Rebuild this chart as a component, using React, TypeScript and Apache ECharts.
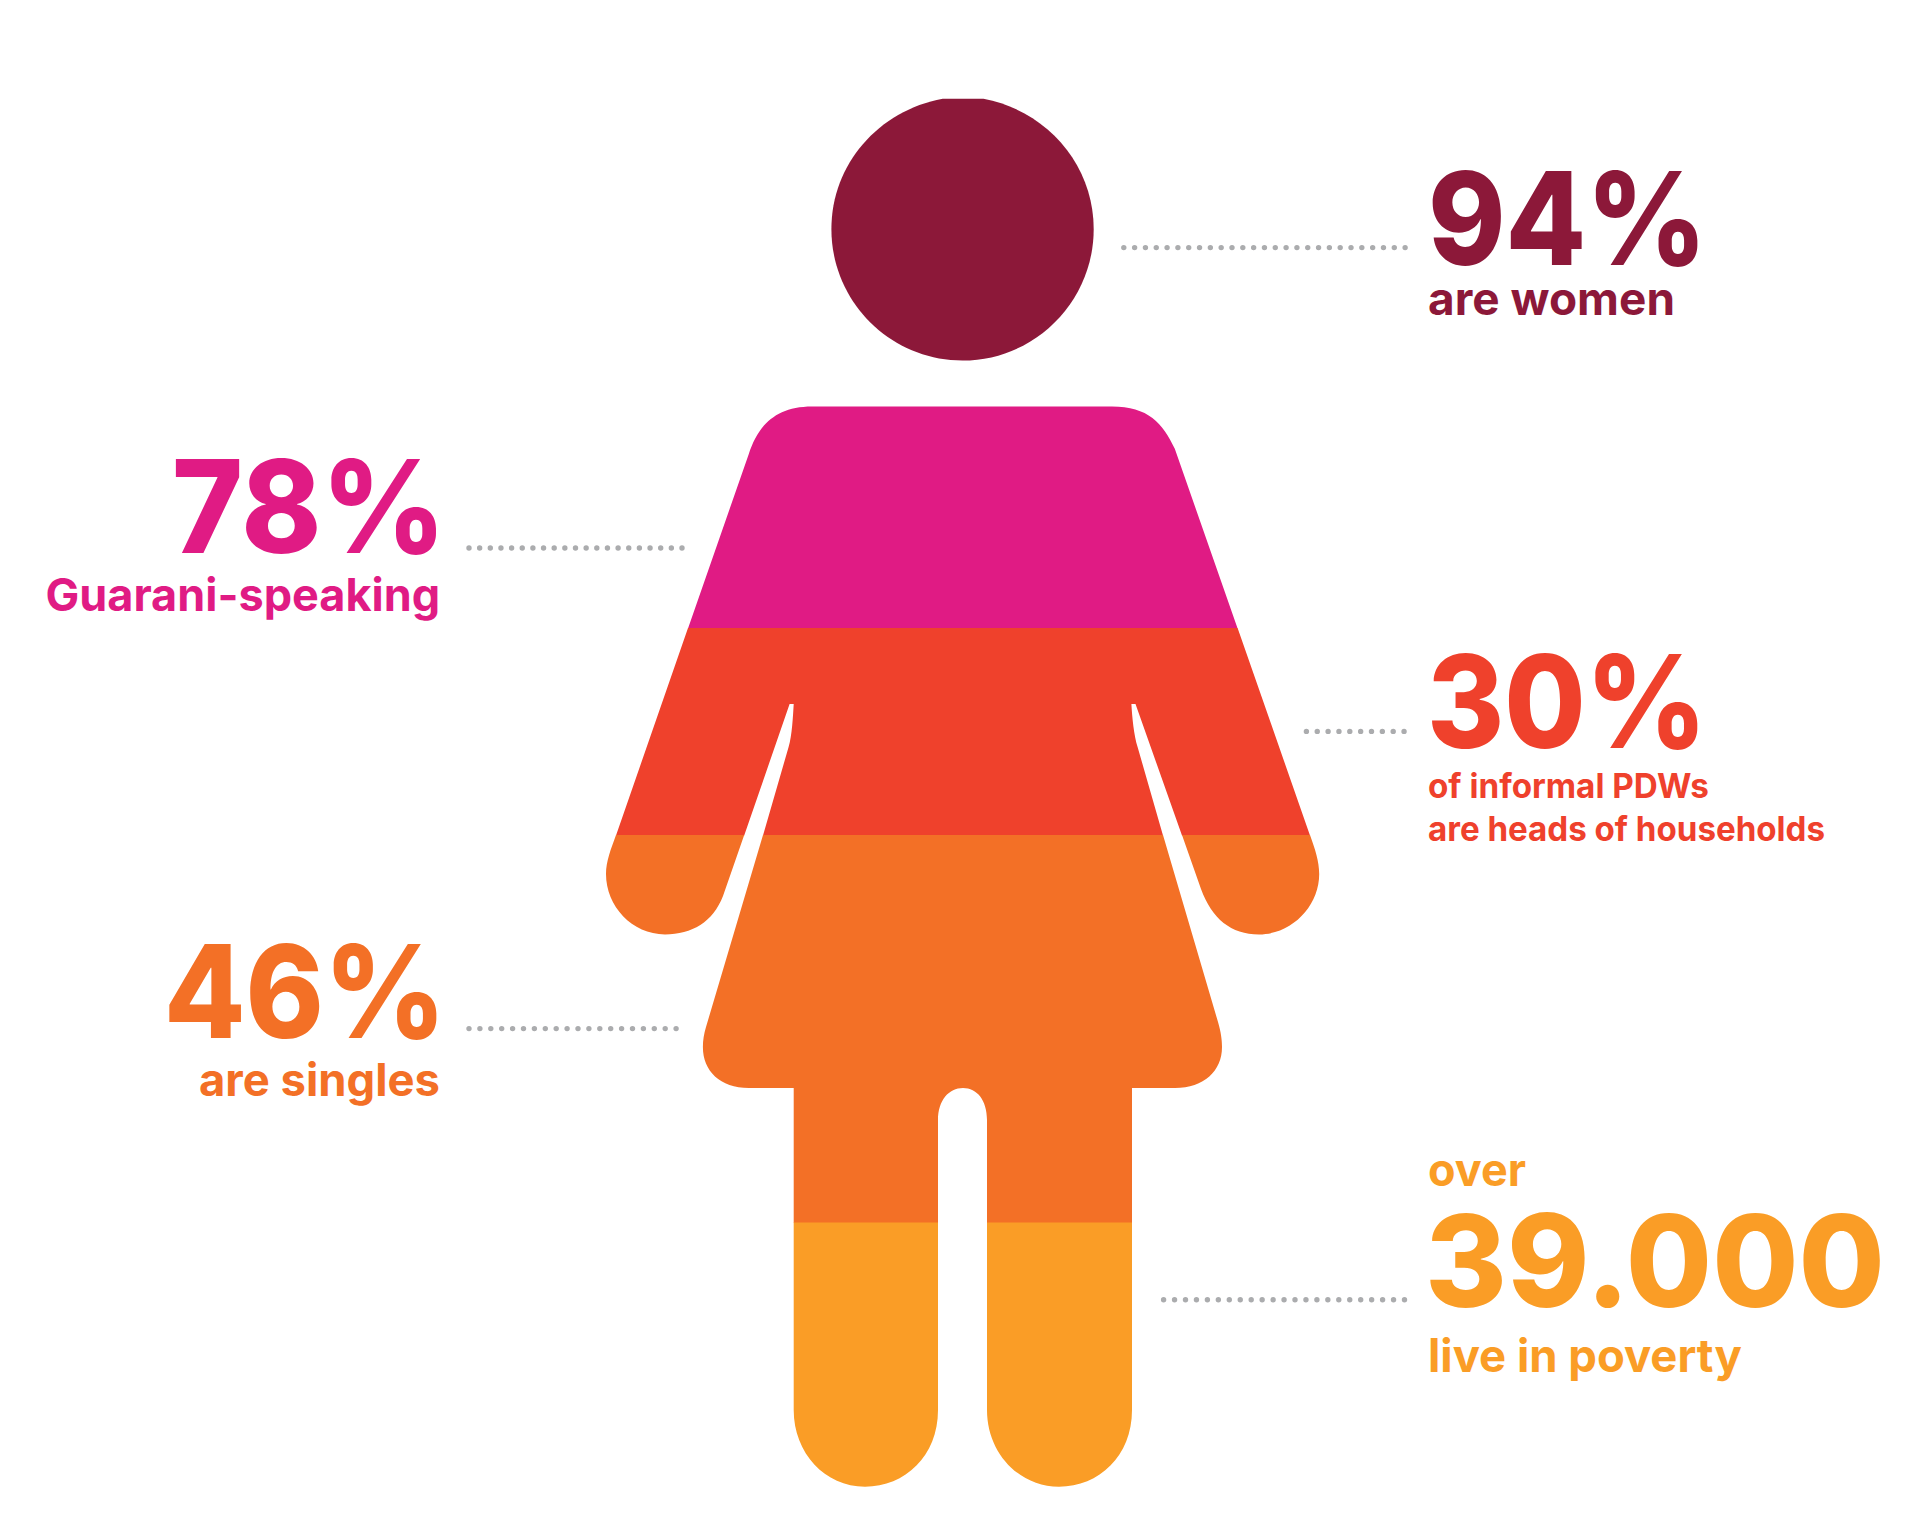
import React, { useEffect, useRef } from "react";
import * as echarts from "echarts";

// ---- data -------------------------------------------------------------
const statFigures = ["94%", "78%", "30%", "46%", "39.000"];
const statCaptions = [
  ["are women"],
  ["Guarani-speaking"],
  ["of informal PDWs", "are heads of households"],
  ["are singles"],
  ["live in poverty"],
];
const statPrefix = "over";
const bandColors = ["#8C1839", "#E01B84", "#EF412C", "#F37026", "#FA9D26"];
const dotColor = "#ABACAE";

// ---- silhouette, cut into the five coloured bands ----------------------
const bandPaths = [
  "M942.7 97.8 L983.5 97.8 C1046.7 109.7 1093.7 163.5 1093.7 228 C1093.7 300.4 1035 359.5 962.5 359.5 C890 359.5 831.4 300.4 831.4 228 C831.4 163.5 878.3 109.7 942.7 97.8 Z",
  "M688 627.5 L748.8 452.9 C758 425 775 405.4 812 405.4 L1112 405.4 C1148 405.4 1163 422 1174.8 447.8 L1237.6 627.5 Z",
  "M688 627 L1237.6 627 L1310 834.5 L1182 834.5 L1135.5 703 L1131.4 703 C1132 715 1134 735 1137.6 746 L1163 834.5 L763 834.5 L788.6 746 C792 735 793 715 793.7 703 L789.6 703 L744.2 834.5 L616 834.5 Z",
  "M616 834 L744.2 834 L723 895 C713 921 692 933.4 665 933.4 C632 933.4 606 905 606 873 C606 860 611 848 616 834 Z M1182 834 L1310 834 C1315 848 1319.2 860 1319.2 873 C1319.2 905 1292 933.4 1259 933.4 C1231 933.4 1212 918 1201 888 Z M763 834 L1163 834 L1218 1021 C1221 1031 1222 1039 1222 1046 C1222 1070 1204 1086.9 1175 1086.9 L1132 1086.9 L1132 1221.5 L987 1221.5 L987 1119 C987 1099 977 1086.9 963 1086.9 C949 1086.9 938 1099 938 1119 L938 1221.5 L793.7 1221.5 L793.7 1086.9 L749 1086.9 C720 1086.9 702.9 1070 702.9 1046 C702.9 1039 704 1033 706 1026 Z",
  "M793.7 1221 L938 1221 L938 1409 C938 1455 905 1485.7 865 1485.7 C825 1485.7 793.7 1452 793.7 1409 Z M987 1221 L1132 1221 L1132 1409 C1132 1455 1099 1485.7 1059 1485.7 C1019 1485.7 987 1452 987 1409 Z",
];
bandPaths.forEach((d, i) =>
  echarts.graphic.registerShape("band" + i, echarts.graphic.extendPath(d as any, {} as any) as any)
);

const FONT = "Inter";
const measureCtx = document.createElement("canvas").getContext("2d")!;

function fittedText(text: string, left: number, baseline: number, size: number, width: number, fill: string, weight = 800) {
  measureCtx.font = `${weight} ${size}px ${FONT}`;
  const natural = measureCtx.measureText(text).width || width;
  return {
    type: "text",
    x: left,
    y: baseline - 0.364 * size,
    scaleX: width / natural,
    silent: true,
    style: { x: 0, y: 0, text, fill, font: `${weight} ${size}px ${FONT}`, fontFamily: FONT, fontWeight: weight, fontSize: size, align: "left", verticalAlign: "middle" },
  };
}

function dots(x1: number, x2: number, y: number, gap: number) {
  return {
    type: "line",
    silent: true,
    shape: { x1, y1: y, x2, y2: y },
    style: { stroke: dotColor, lineWidth: 5.4, lineCap: "round", lineDash: [0, gap] },
  };
}

export default function App() {
  const ref = useRef<HTMLDivElement>(null);
  useEffect(() => {
    document.body.style.margin = "0";
    document.body.style.background = "#ffffff";
    const chart = echarts.init(ref.current!, undefined, { renderer: "svg" });
    const figure = bandPaths.map((_, i) => ({
      type: "band" + i,
      x: 0,
      y: 1,
      silent: true,
      z: i === 3 ? 3 : 2,
      style: { fill: bandColors[i] },
    }));
    chart.setOption({
      animation: false,
      backgroundColor: "#ffffff",
      graphic: {
        elements: [
          ...figure,
          dots(1123.8, 1408, 247.6, 10.82),
          dots(469, 683, 548, 10.65),
          dots(1306.4, 1408, 731.4, 10.85),
          dots(469, 679, 1028.6, 10.9),
          dots(1163.6, 1408, 1299.8, 10.95),
          fittedText(statFigures[0], 1428, 265, 129, 279, bandColors[0]),
          fittedText(statCaptions[0][0], 1428, 314.6, 46, 247, bandColors[0], 700),
          fittedText(statFigures[1], 172, 553.5, 129, 274, bandColors[1]),
          fittedText(statCaptions[1][0], 45.5, 611, 45, 394.5, bandColors[1], 700),
          fittedText(statFigures[2], 1427, 748, 129, 280, bandColors[2]),
          fittedText(statCaptions[2][0], 1428, 797.6, 34, 281, bandColors[2], 700),
          fittedText(statCaptions[2][1], 1428, 840.5, 34, 397, bandColors[2], 700),
          fittedText(statFigures[3], 164, 1038, 129, 282, bandColors[3]),
          fittedText(statCaptions[3][0], 199, 1095.5, 45, 241, bandColors[3], 700),
          fittedText(statPrefix, 1428, 1186, 46, 98, bandColors[4], 700),
          fittedText(statFigures[4], 1425, 1307, 128, 460, bandColors[4]),
          fittedText(statCaptions[4][0], 1428, 1372, 46, 314, bandColors[4], 700),
        ],
      },
    });
    return () => chart.dispose();
  }, []);
  return <div ref={ref} style={{ position: "absolute", left: 0, top: 0, width: 1920, height: 1539 }} />;
}
